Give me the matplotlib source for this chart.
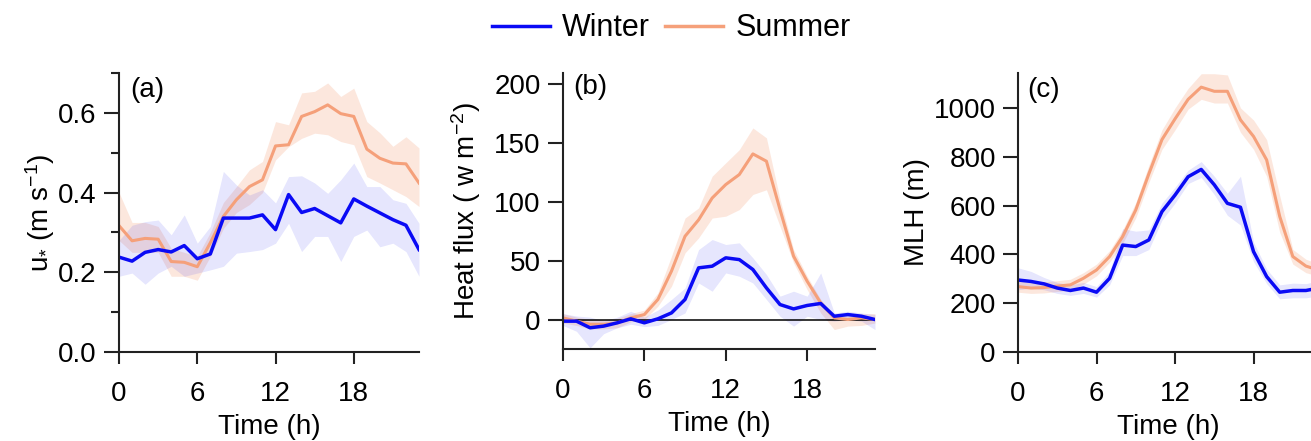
import matplotlib
matplotlib.use('Agg')
import matplotlib.pyplot as plt
import numpy as np
from matplotlib.ticker import MultipleLocator

plt.rcParams['font.family'] = ['Liberation Sans', 'DejaVu Sans']
plt.rcParams['mathtext.fontset'] = 'custom'
plt.rcParams['mathtext.rm'] = 'Liberation Sans'
plt.rcParams['mathtext.it'] = 'Liberation Sans'

hours = np.arange(24)

# (a) friction velocity u*
ust_winter = [0.238, 0.228, 0.250, 0.257, 0.251, 0.267, 0.234, 0.246, 0.336, 0.336, 0.336, 0.344,
              0.307, 0.395, 0.350, 0.360, 0.342, 0.324, 0.384, 0.366, 0.349, 0.332, 0.318, 0.257]
ust_winter_lo = [0.19, 0.198, 0.17, 0.198, 0.215, 0.19, 0.198, 0.206, 0.215, 0.248, 0.252, 0.257,
                 0.273, 0.323, 0.252, 0.29, 0.29, 0.227, 0.29, 0.306, 0.264, 0.273, 0.252, 0.19]
ust_winter_hi = [0.28, 0.318, 0.327, 0.331, 0.294, 0.344, 0.273, 0.315, 0.453, 0.419, 0.394, 0.407,
                 0.374, 0.44, 0.442, 0.424, 0.398, 0.432, 0.474, 0.415, 0.415, 0.382, 0.373, 0.323]
ust_summer = [0.317, 0.279, 0.285, 0.283, 0.227, 0.225, 0.214, 0.274, 0.340, 0.382, 0.415, 0.432,
              0.517, 0.520, 0.591, 0.603, 0.620, 0.598, 0.591, 0.509, 0.486, 0.474, 0.472, 0.424]
ust_summer_lo = [0.28, 0.25, 0.25, 0.25, 0.19, 0.19, 0.18, 0.24, 0.31, 0.35, 0.37, 0.40,
                 0.482, 0.515, 0.536, 0.549, 0.545, 0.528, 0.52, 0.44, 0.424, 0.407, 0.39, 0.365]
ust_summer_hi = [0.40, 0.325, 0.325, 0.315, 0.26, 0.25, 0.24, 0.30, 0.375, 0.415, 0.457, 0.478,
                 0.578, 0.57, 0.65, 0.654, 0.675, 0.641, 0.662, 0.578, 0.55, 0.516, 0.54, 0.512]

# (b) heat flux
hf_winter = [-1.4, -1.4, -7, -5.6, -2.8, 0.6, -2.8, 0.6, 5.6, 17, 43.8, 45.2,
             52.3, 50.8, 42.4, 26.8, 12.7, 9, 11.9, 13.6, 2.8, 4.2, 2.8, 0]
hf_winter_lo = [-5, -10, -24, -12, -7, -4, -6, -5, 0, 5.6, 31, 24,
                39.5, 36.7, 31, 17, 2.8, -5.6, 2.8, 0, -1.4, 0, -1.4, -8.5]
hf_winter_hi = [5, 3, 2, -1, 2, 7, 2, 8, 17, 26.8, 59.3, 67.8,
                63.6, 65, 52.3, 38.1, 19.8, 24, 19.8, 39.5, 5.6, 7, 5.6, 4.2]
hf_summer = [1.4, -1.4, -4, -4, -3, 1.4, 4.2, 17, 41, 70.6, 84.5, 103,
             114.4, 122.9, 140.4, 134.2, 93.2, 53.7, 32.5, 14.1, 1.4, 0, 1.4, 0]
hf_summer_lo = [-3, -5, -8, -8, -7, -2, 0, 11.3, 28.2, 56.5, 69.2, 86,
                87.6, 93.2, 106, 110, 79, 48, 25.4, 5.6, -8.5, -5.6, -5, -3]
hf_summer_hi = [5, 2, 0, 0, 1, 5, 8, 22.6, 53.7, 86, 94.6, 121.5,
                132.8, 144, 162.4, 154, 102, 59.3, 36.7, 17, 2.8, 5, 5, 5]

# (c) mixing layer height
mlh_winter = [295, 289, 279, 262, 252, 262, 245, 302, 438, 432, 459, 575,
              643, 718, 748, 685, 609, 593, 411, 309, 245, 252, 252, 262]
mlh_winter_lo = [255, 262, 255, 240, 232, 240, 225, 275, 395, 395, 420, 540,
                 610, 690, 715, 645, 560, 520, 370, 280, 218, 222, 222, 230]
mlh_winter_hi = [345, 330, 305, 285, 275, 285, 268, 330, 505, 495, 500, 610,
                 675, 745, 780, 720, 650, 720, 450, 340, 275, 282, 280, 292]
mlh_summer = [268, 262, 264, 270, 275, 302, 336, 391, 473, 582, 730, 870,
              955, 1035, 1085, 1068, 1068, 951, 883, 787, 555, 391, 352, 335]
mlh_summer_lo = [245, 240, 242, 248, 252, 278, 312, 368, 445, 550, 695, 830,
                 910, 995, 1035, 1020, 1020, 900, 830, 720, 490, 360, 325, 310]
mlh_summer_hi = [292, 285, 288, 292, 298, 325, 360, 415, 500, 612, 765, 910,
                 1000, 1080, 1140, 1140, 1135, 1000, 950, 870, 640, 420, 380, 360]

c_win = '#0a0af5'
c_sum = '#f5a07a'
fs = 20

fig = plt.figure(figsize=(13.11, 4.41), dpi=100)
ax_a = fig.add_axes([0.0908, 0.2018, 0.2288, 0.6327])
ax_b = fig.add_axes([0.4294, 0.2086, 0.2380, 0.6259])
ax_c = fig.add_axes([0.7765, 0.2018, 0.2296, 0.6327])

panels = [
    (ax_a, ust_winter, ust_winter_lo, ust_winter_hi, ust_summer, ust_summer_lo, ust_summer_hi),
    (ax_b, hf_winter, hf_winter_lo, hf_winter_hi, hf_summer, hf_summer_lo, hf_summer_hi),
    (ax_c, mlh_winter, mlh_winter_lo, mlh_winter_hi, mlh_summer, mlh_summer_lo, mlh_summer_hi),
]

for ax, w, wlo, whi, s, slo, shi in panels:
    ax.fill_between(hours, slo, shi, color=c_sum, alpha=0.25, lw=0)
    ax.fill_between(hours, wlo, whi, color=c_win, alpha=0.1, lw=0)
    ax.plot(hours, s, color=c_sum, lw=2.2)
    ax.plot(hours, w, color=c_win, lw=2.5)
    ax.set_xlim(0, 23)
    ax.set_xticks([0, 6, 12, 18])
    for sp in ['top', 'right']:
        ax.spines[sp].set_visible(False)
    for sp in ['left', 'bottom']:
        ax.spines[sp].set_linewidth(1.5)
        ax.spines[sp].set_color('#222222')
    ax.tick_params(axis='both', labelsize=fs, width=1.5, color='#222222', direction='out')
    ax.tick_params(axis='x', length=8.6, pad=12)
    ax.tick_params(axis='y', length=11, pad=5)
    ax.set_xlabel('Time (h)', fontsize=fs, labelpad=5)

ax_a.set_ylim(0, 0.7)
ax_a.set_yticks([0.0, 0.2, 0.4, 0.6])
ax_a.yaxis.set_minor_locator(MultipleLocator(0.1))
ax_a.tick_params(axis='y', which='minor', length=6, width=1.5, color='#222222')
ax_a.set_ylabel(r'u$_{*}$ (m s$^{-1}$)', fontsize=fs, va='center')
ax_a.yaxis.set_label_coords(-0.262, 0.5)

ax_b.set_ylim(-25, 209)
ax_b.set_yticks([0, 50, 100, 150, 200])
ax_b.axhline(0, color='black', lw=1.1, zorder=1)
ax_b.set_ylabel(r'Heat flux ( w m$^{-2}$)', fontsize=fs, va='center')
ax_b.yaxis.set_label_coords(-0.31, 0.5)

ax_c.set_ylim(0, 1143)
ax_c.set_yticks([0, 200, 400, 600, 800, 1000])
ax_c.set_ylabel('MLH (m)', fontsize=fs, va='center')
ax_c.yaxis.set_label_coords(-0.335, 0.5)

ax_a.text(0.037, 0.985, '(a)', transform=ax_a.transAxes, fontsize=fs, va='top', ha='left')
ax_b.text(0.032, 0.995, '(b)', transform=ax_b.transAxes, fontsize=fs, va='top', ha='left')
ax_c.text(0.03, 0.985, '(c)', transform=ax_c.transAxes, fontsize=fs, va='top', ha='left')

handles = [plt.Line2D([], [], color=c_win, lw=2.5), plt.Line2D([], [], color=c_sum, lw=2.5)]
fig.legend(handles, ['Winter', 'Summer'], loc='center', bbox_to_anchor=(0.512, 0.936),
           ncol=2, frameon=False, fontsize=22, handlelength=1.9, handletextpad=0.4,
           columnspacing=0.5)

fig.savefig('out.png', dpi=100)
